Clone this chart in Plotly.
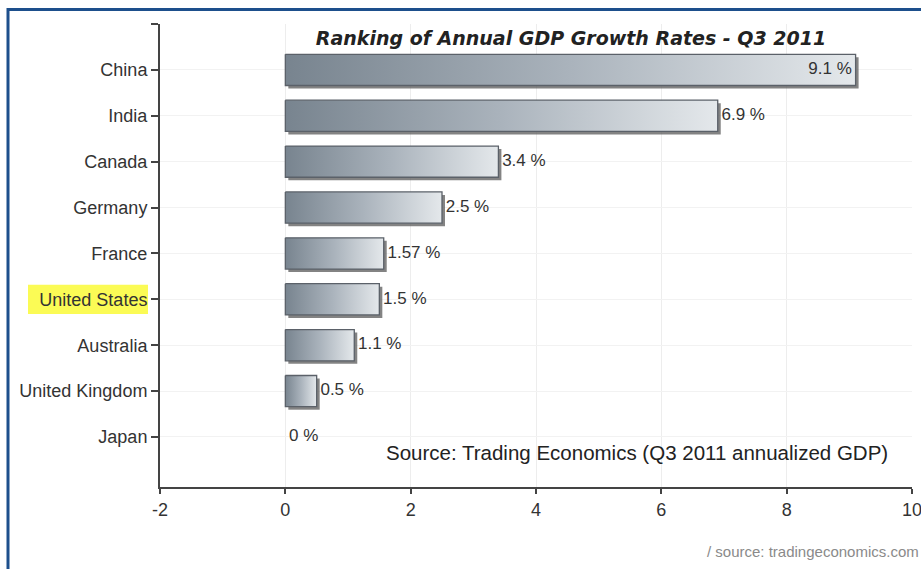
import plotly.graph_objects as go

countries = ["China", "India", "Canada", "Germany", "France", "United States",
             "Australia", "United Kingdom", "Japan"]
growth = [9.1, 6.9, 3.4, 2.5, 1.57, 1.5, 1.1, 0.5, 0.0]
value_labels = ["9.1 %", "6.9 %", "3.4 %", "2.5 %", "1.57 %", "1.5 %", "1.1 %", "0.5 %", "0 %"]
x_ticks = [-2, 0, 2, 4, 6, 8, 10]
highlight = "United States"

TITLE = "Ranking of Annual GDP Growth Rates - Q3 2011"
SOURCE = "Source: Trading Economics (Q3 2011 annualized GDP)"
CREDIT = "/ source: tradingeconomics.com"

W, H = 921, 569
ML, MR, MT, MB = 160, 9, 24, 82
X_RANGE = [-2, 10]
Y_RANGE = [9.09, -1.0]

px_per_x = (W - ML - MR) / (X_RANGE[1] - X_RANGE[0])
px_per_y = (H - MT - MB) / (Y_RANGE[0] - Y_RANGE[1])
half = 0.34
sdx, sdy = 3 / px_per_x, 3 / px_per_y

fig = go.Figure()
pos = list(range(len(countries)))

# shadows
for i, v in zip(pos, growth):
    if v <= 0:
        continue
    fig.add_trace(go.Scatter(
        x=[sdx, v + sdx, v + sdx, sdx, sdx],
        y=[i - half + sdy, i - half + sdy, i + half + sdy, i + half + sdy, i - half + sdy],
        mode="lines", fill="toself", fillcolor="rgba(90,90,90,0.75)",
        line=dict(width=0, color="rgba(0,0,0,0)"), hoverinfo="skip", showlegend=False))

# bars with gradient
for i, v in zip(pos, growth):
    if v <= 0:
        continue
    fig.add_trace(go.Scatter(
        x=[0, v, v, 0, 0],
        y=[i - half, i - half, i + half, i + half, i - half],
        mode="lines", fill="toself",
        fillgradient=dict(type="horizontal",
                          colorscale=[[0, "#78848f"], [0.5, "#aab3bc"], [1, "#e4e8eb"]]),
        line=dict(width=1.3, color="#5b6169"), hoverinfo="skip", showlegend=False))

# value labels
inside = [v > 8 for v in growth]
fig.add_trace(go.Scatter(
    x=[v - 0.06 if ins else v + 0.06 for v, ins in zip(growth, inside)],
    y=pos, mode="text", text=value_labels,
    textposition=["middle left" if ins else "middle right" for ins in inside],
    textfont=dict(family="Liberation Sans", size=17, color="#333333"),
    hoverinfo="skip", showlegend=False))

fig.update_layout(
    width=W, height=H,
    margin=dict(l=ML, r=MR, t=MT, b=MB, autoexpand=False),
    paper_bgcolor="white", plot_bgcolor="white",
    showlegend=False,
    font=dict(family="Liberation Sans", size=17, color="#333333"),
    title=dict(text=TITLE, x=571 / W, xanchor="center", xref="container",
               y=1 - 38 / H, yanchor="middle", yref="container",
               font=dict(family="DejaVu Sans", size=19, color="#222222",
                         weight="bold", style="italic")),
)

fig.update_xaxes(range=X_RANGE, tickvals=x_ticks, ticktext=[str(t) for t in x_ticks],
                 showgrid=True, gridcolor="#ededed", gridwidth=1, zeroline=False,
                 showline=True, linecolor="#444444", linewidth=2,
                 ticks="outside", ticklen=5, tickwidth=2, tickcolor="#444444",
                 ticklabeloverflow="allow", automargin=False,
                 tickfont=dict(family="Liberation Sans", size=18, color="#333333"))

fig.update_yaxes(range=Y_RANGE, tickvals=[-1] + pos, ticktext=[""] + countries,
                 showgrid=True, gridcolor="#f2f2f2", gridwidth=1, zeroline=False,
                 showline=True, linecolor="#444444", linewidth=2,
                 ticks="outside", ticklen=7, tickwidth=2, tickcolor="#444444",
                 automargin=False,
                 tickfont=dict(family="Liberation Sans", size=18, color="#333333"))

# highlight behind the United States label
hi = countries.index(highlight)
fig.add_shape(type="rect", xref="paper", yref="y",
              x0=(28 - ML) / (W - ML - MR), x1=(148 - ML) / (W - ML - MR),
              y0=hi - 0.32, y1=hi + 0.32, fillcolor="#fbfb55",
              line=dict(width=0), layer="below")

# frame
pw, ph = W - ML - MR, H - MT - MB
fig.add_shape(type="rect", xref="paper", yref="paper",
              x0=(8 - ML) / pw, x1=(W + 20 - ML) / pw,
              y0=-(H + 20 - MT - ph) / ph, y1=1 + (MT - 9.5) / ph,
              line=dict(color="#1d4f8c", width=3), fillcolor="rgba(0,0,0,0)", layer="below")

fig.add_annotation(text=SOURCE, xref="paper", yref="paper",
                   x=(890 - ML) / pw, xanchor="right",
                   y=1 - (452 - MT) / ph, yanchor="middle", showarrow=False,
                   font=dict(family="Liberation Sans", size=20.5, color="#222222"))

fig.add_annotation(text=CREDIT, xref="paper", yref="paper",
                   x=(705 - ML) / pw, xanchor="left",
                   y=1 - (551 - MT) / ph, yanchor="middle", showarrow=False,
                   font=dict(family="Liberation Sans", size=15, color="#8a8a8a"))

fig.write_html("out.html")
